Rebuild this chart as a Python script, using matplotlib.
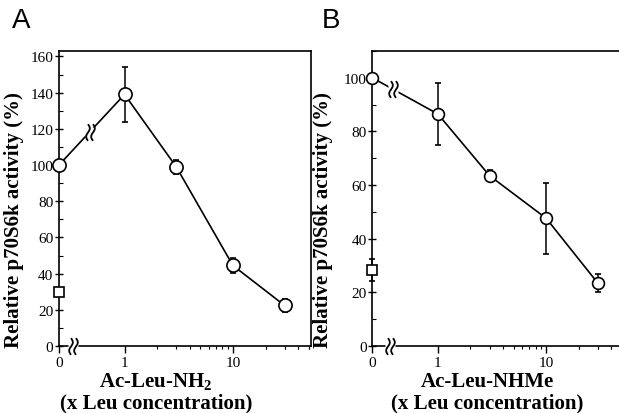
"""Relative p70S6k activity vs. leucine analogue concentration (panels A and B)."""
import numpy as np
import matplotlib
matplotlib.use('Agg')
import matplotlib.pyplot as plt
from matplotlib.path import Path
from matplotlib.ticker import FixedLocator, NullFormatter, MultipleLocator

plt.rcParams['font.family'] = 'Liberation Serif'
plt.rcParams['font.size'] = 11
plt.rcParams['mathtext.fontset'] = 'custom'
plt.rcParams['mathtext.rm'] = 'Liberation Serif'
plt.rcParams['mathtext.bf'] = 'Liberation Serif:bold'

# x = 0 is drawn at the left edge of the log axis
X_ZERO = 0.2483
X_MAX = 52.5

conc = [0, 1, 3, 10, 30]

act_a = [100, 139, 99, 44.5, 22.4]
err_a = [0, 15, 4, 4, 3.7]
ctrl_a = 29.8
ctrl_err_a = 0

act_b = [100, 86.5, 63.5, 47.6, 23.4]
err_b = [0, 11.7, 2, 13.3, 3.3]
ctrl_b = 28.4
ctrl_err_b = 4.2


def wave_marker():
    """Two vertical S-shaped strokes used as an axis-break symbol."""
    t = np.linspace(-1, 1, 20)
    verts, codes = [], []
    for off in (-0.3, 0.3):
        xs = off + 0.22 * np.sin(np.pi * t)
        for i, (x, y) in enumerate(zip(xs, t)):
            verts.append((x, y))
            codes.append(Path.MOVETO if i == 0 else Path.LINETO)
    return Path(verts, codes)


BREAK = wave_marker()


def draw_break(ax, x, y):
    ax.plot([x], [y], marker='s', ms=7, mfc='white', mec='none', ls='none',
            zorder=5, clip_on=False)
    ax.plot([x], [y], marker=BREAK, ms=12, mfc='none', mec='k', mew=1.3,
            ls='none', zorder=6, clip_on=False)


def draw_panel(ax, act, err, ctrl, ctrl_err, ymax, yticks, ms, line_brk, axis_brk):
    xs = [X_ZERO if c == 0 else c for c in conc]
    ax.errorbar(xs, act, yerr=err, fmt='-o', color='k', lw=1.2, ms=ms,
                mfc='white', mec='k', mew=1.2, capsize=2, elinewidth=1.1,
                zorder=3, clip_on=False)
    ax.errorbar([X_ZERO], [ctrl], yerr=[ctrl_err], fmt='s', color='k', ms=7,
                mfc='white', mec='k', mew=1.2, capsize=2, elinewidth=1.1,
                zorder=4, clip_on=False)

    ax.set_xscale('log')
    ax.set_xlim(X_ZERO, X_MAX)
    ax.set_ylim(0, ymax)

    ax.xaxis.set_major_locator(FixedLocator([X_ZERO, 1, 10]))
    ax.set_xticklabels(['0', '1', '10'])
    minors = [m * d for d in (1, 10) for m in range(2, 10)] + [20, 30, 40, 50]
    ax.xaxis.set_minor_locator(FixedLocator(minors))
    ax.xaxis.set_minor_formatter(NullFormatter())
    ax.tick_params(axis='x', which='major', direction='out', length=5, width=1, pad=2)
    ax.tick_params(axis='x', which='minor', direction='out', length=2.5, width=0.8)

    ax.set_yticks(yticks)
    ax.yaxis.set_minor_locator(MultipleLocator(10))
    ax.tick_params(axis='y', which='major', direction='inout', length=6, width=1, pad=1)
    ax.tick_params(axis='y', which='minor', direction='in', length=3, width=0.8)

    for s in ax.spines.values():
        s.set_linewidth(1.2)

    draw_break(ax, *line_brk)
    draw_break(ax, axis_brk, 0)


fig = plt.figure(figsize=(6.19, 4.14), dpi=100)
ax_a = fig.add_axes([0.0953, 0.1618, 0.407, 0.7126])
ax_b = fig.add_axes([0.6015, 0.1618, 0.407, 0.7126])

draw_panel(ax_a, act_a, err_a, ctrl_a, ctrl_err_a, 163, range(0, 161, 20), 9.5,
           (0.483, 118.5), 0.336)
draw_panel(ax_b, act_b, err_b, ctrl_b, ctrl_err_b, 110, range(0, 101, 20), 8.5,
           (0.386, 95.7), 0.363)

lab = dict(fontsize=15, fontweight='bold')
for ax, name, xc, yx in [(ax_a, r'Ac-Leu-NH$\mathbf{_2}$', 0.385, -0.14),
                         (ax_b, 'Ac-Leu-NHMe', 0.455, -0.157)]:
    ax.set_ylabel('Relative p70S6k activity (%)', **lab)
    ax.yaxis.set_label_coords(yx, 0.43)
    ax.text(xc, -0.1356, name, transform=ax.transAxes, ha='center',
            va='baseline', **lab)
    ax.text(xc, -0.207, '(x Leu concentration)', transform=ax.transAxes,
            ha='center', va='baseline', **lab)

fig.text(12 / 619, 1 - 28 / 414, 'A', family='Liberation Sans', fontsize=20,
         va='baseline')
fig.text(322 / 619, 1 - 28 / 414, 'B', family='Liberation Sans', fontsize=20,
         va='baseline')

fig.savefig('out.png', dpi=100)
